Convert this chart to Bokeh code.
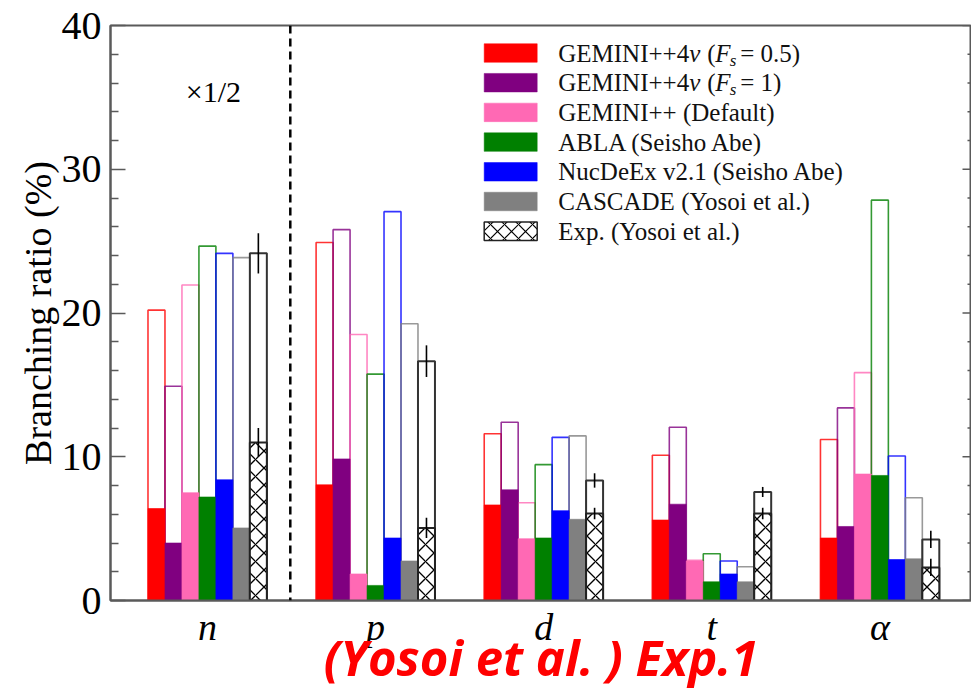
from bokeh.plotting import figure
from bokeh.models import Range1d, FixedTicker, Label, Span
from bokeh.embed import file_html
from bokeh.resources import INLINE
import numpy as np

# ---- data -------------------------------------------------------------
categories = ["n", "p", "d", "t", "α"]

gem05_upper = [20.2, 24.9, 11.6, 10.1, 11.2]
gem05_lower = [6.4, 8.05, 6.65, 5.6, 4.35]
gem1_upper = [14.9, 25.8, 12.4, 12.05, 13.4]
gem1_lower = [4.0, 9.85, 7.7, 6.7, 5.15]
gemdef_upper = [21.95, 18.5, 6.8, 2.8, 15.85]
gemdef_lower = [7.5, 1.85, 4.3, 2.75, 8.8]
abla_upper = [24.65, 15.75, 9.45, 3.25, 27.85]
abla_lower = [7.2, 1.05, 4.35, 1.3, 8.7]
nucdeex_upper = [24.15, 27.05, 11.35, 2.75, 10.05]
nucdeex_lower = [8.4, 4.35, 6.25, 1.85, 2.85]
cascade_upper = [23.85, 19.25, 11.45, 2.35, 7.15]
cascade_lower = [5.05, 2.75, 5.65, 1.3, 2.9]
exp_upper = [24.15, 16.65, 8.35, 7.55, 4.25]
exp_upper_err = [1.4, 1.1, 0.5, 0.35, 0.6]
exp_lower = [11.0, 5.05, 6.05, 6.05, 2.3]
exp_lower_err = [1.0, 0.7, 0.4, 0.4, 0.6]

y_major_ticks = [0, 10, 20, 30, 40]
y_minor_ticks = [2, 4, 6, 8, 12, 14, 16, 18, 22, 24, 26, 28, 32, 34, 36, 38]

models = [
    ("GEMINI++4ν (Fs=0.5)", "#ff0000", gem05_upper, gem05_lower),
    ("GEMINI++4ν (Fs=1)", "#800080", gem1_upper, gem1_lower),
    ("GEMINI++ (Default)", "#ff69b4", gemdef_upper, gemdef_lower),
    ("ABLA (Seisho Abe)", "#008000", abla_upper, abla_lower),
    ("NucDeEx v2.1 (Seisho Abe)", "#0000ff", nucdeex_upper, nucdeex_lower),
    ("CASCADE (Yosoi et al.)", "#808080", cascade_upper, cascade_lower),
]

SERIF = "Liberation Serif"
AXIS_GRAY = "#5a5a5a"

# ---- figure -----------------------------------------------------------
X0, X1 = -0.5765, 4.545
p = figure(width=971, height=693, output_backend="svg", toolbar_location=None,
           x_range=Range1d(X0, X1), y_range=Range1d(0, 40),
           min_border_left=110, min_border_right=0, min_border_top=25,
           min_border_bottom=93)
p.title.visible = False
p.xgrid.visible = False
p.ygrid.visible = False
p.outline_line_color = AXIS_GRAY
p.outline_line_width = 2
p.background_fill_color = "white"
p.border_fill_color = "white"

# data units per screen pixel (used for legend layout)
DX = (X1 - X0) / 861.0
DY = 40.0 / 575.0

# left axis
yax = p.yaxis[0]
yax.ticker = FixedTicker(ticks=y_major_ticks, minor_ticks=y_minor_ticks)
yax.axis_label = "Branching ratio (%)"
yax.axis_label_text_font = SERIF
yax.axis_label_text_font_size = "38px"
yax.axis_label_text_font_style = "normal"
yax.axis_label_text_color = "black"
yax.axis_label_standoff = 0
yax.major_label_text_font = SERIF
yax.major_label_text_font_size = "40px"
yax.major_label_text_color = "black"
yax.major_label_standoff = 9
yax.major_tick_in = 15
yax.major_tick_out = 0
yax.minor_tick_in = 8
yax.minor_tick_out = 0
yax.axis_line_color = AXIS_GRAY
yax.axis_line_width = 2
yax.major_tick_line_color = AXIS_GRAY
yax.major_tick_line_width = 1.5
yax.minor_tick_line_color = AXIS_GRAY
yax.minor_tick_line_width = 1.5

# bottom axis: category names, caption as the axis title
xax = p.xaxis[0]
xax.ticker = FixedTicker(ticks=list(range(len(categories))))
xax.major_label_overrides = {i: c for i, c in enumerate(categories)}
xax.major_label_text_font = SERIF
xax.major_label_text_font_size = "38px"
xax.major_label_text_font_style = "italic"
xax.major_label_text_color = "black"
xax.major_label_standoff = 5
xax.major_tick_in = 0
xax.major_tick_out = 0
xax.minor_tick_line_color = None
xax.axis_line_color = AXIS_GRAY
xax.axis_line_width = 2
xax.axis_label = "(Yosoi et al. ) Exp.1"
xax.axis_label_text_font = "Open Sans"
xax.axis_label_text_font_size = "49px"
xax.axis_label_text_font_style = "bold italic"
xax.axis_label_text_color = "#ff0000"
xax.axis_label_standoff = -27

# tick marks along the right edge of the frame
rx0 = X1 - 9 * DX
p.segment(x0=[rx0] * len(y_major_ticks), y0=y_major_ticks,
          x1=[X1] * len(y_major_ticks), y1=y_major_ticks,
          line_color=AXIS_GRAY, line_width=1.5)
rx1 = X1 - 4 * DX
p.segment(x0=[rx1] * len(y_minor_ticks), y0=y_minor_ticks,
          x1=[X1] * len(y_minor_ticks), y1=y_minor_ticks,
          line_color=AXIS_GRAY, line_width=1.5)

# ---- bars ---------------------------------------------------------------
bw = 0.101
base = np.arange(len(categories), dtype=float)

for j, (name, color, upper, lower) in enumerate(models):
    xs = base + (j - 3) * bw
    p.vbar(x=xs, width=bw, top=upper, bottom=0, fill_alpha=0,
           line_color=color, line_width=1.6, line_alpha=0.8)

for j, (name, color, upper, lower) in enumerate(models):
    xs = base + (j - 3) * bw
    p.vbar(x=xs, width=bw, top=lower, bottom=0, fill_color=color,
           line_color=color, line_width=1, line_alpha=0.6)

# experimental data: open total bar, hatched partial bar, error bars
xe = base + 3 * bw
p.vbar(x=xe, width=bw, top=exp_upper, bottom=0, fill_alpha=0,
       line_color="#333333", line_width=2)
p.vbar(x=xe, width=bw, top=exp_lower, bottom=0, fill_color="white",
       hatch_pattern="x", hatch_color="black", hatch_weight=1.3, hatch_scale=17,
       line_color="#222222", line_width=2)
eu = np.array(exp_upper); eue = np.array(exp_upper_err)
el = np.array(exp_lower); ele = np.array(exp_lower_err)
p.segment(x0=xe, y0=eu - eue, x1=xe, y1=eu + eue, line_color="black", line_width=1.6)
p.segment(x0=xe, y0=el - ele, x1=xe, y1=el + ele, line_color="black", line_width=1.6)

# divider between the neutron group and the charged particles
p.add_layout(Span(location=0.493, dimension="height", line_color="black",
                  line_width=2.5, line_dash="8 5"))

p.add_layout(Label(x=0.036, y=35.4, text="×1/2", text_font=SERIF,
                   text_font_size="30px", text_align="center",
                   text_baseline="middle", text_color="black"))

# ---- legend (drawn by hand for the mixed italic labels) -------------------
LX = 1.6464
BOX_W = 53 * DX
BOX_H = 18.5 * DY
ROW0 = (600 - 52.5) * DY
ROW_STEP = 29.7 * DY
TX = LX + 74 * DX

legend_colors = [m[1] for m in models]
rows_y = [ROW0 - k * ROW_STEP for k in range(7)]

p.quad(left=[LX] * 6, right=[LX + BOX_W] * 6,
       top=[y + BOX_H / 2 for y in rows_y[:6]],
       bottom=[y - BOX_H / 2 for y in rows_y[:6]],
       fill_color=legend_colors, line_color=legend_colors, line_alpha=0.5)
p.quad(left=[LX], right=[LX + BOX_W], top=[rows_y[6] + BOX_H / 2],
       bottom=[rows_y[6] - BOX_H / 2], fill_color="white",
       hatch_pattern="x", hatch_color="black", hatch_weight=1.2, hatch_scale=14,
       line_color="#222222", line_width=1.5)


def legend_piece(x, y, txt, style="normal", size="25px"):
    p.add_layout(Label(x=x, y=y, text=txt, text_font=SERIF, text_font_size=size,
                       text_font_style=style, text_align="left",
                       text_baseline="middle", text_color="#111111"))


for k, rest in enumerate(["= 0.5)", "= 1)"]):
    y = rows_y[k]
    legend_piece(TX, y, "GEMINI++4")
    legend_piece(TX + 131 * DX, y, "ν", "italic")
    legend_piece(TX + 149 * DX, y, "(")
    legend_piece(TX + 157 * DX, y, "F", "italic")
    legend_piece(TX + 171.5 * DX, y - 7 * DY, "s", "italic", "17px")
    legend_piece(TX + 182 * DX, y, rest)

for k, txt in enumerate(["GEMINI++ (Default)", "ABLA (Seisho Abe)",
                         "NucDeEx v2.1 (Seisho Abe)", "CASCADE (Yosoi et al.)",
                         "Exp. (Yosoi et al.)"]):
    legend_piece(TX, rows_y[k + 2], txt)

open("out.html", "w").write(file_html(p, INLINE))
